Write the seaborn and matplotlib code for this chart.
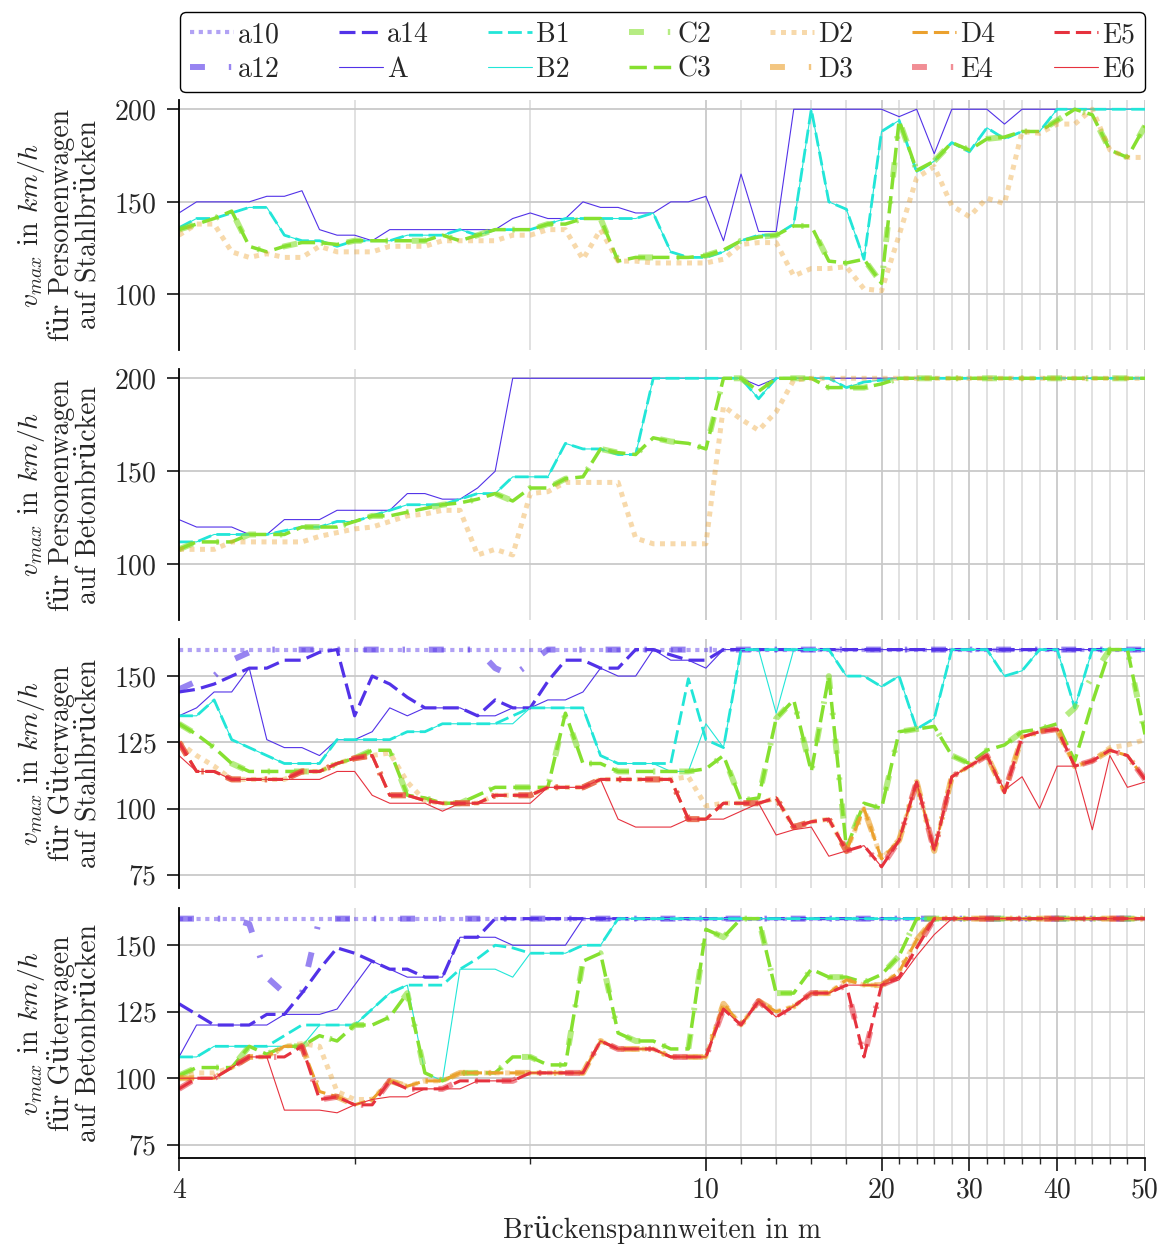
import matplotlib
matplotlib.use("Agg")
import matplotlib.pyplot as plt
from matplotlib.lines import Line2D
import numpy as np
import seaborn as sns

# ---------------------------------------------------------------------------
# Spannweiten (x) – 0.2 m Raster bis 10 m, 1 m bis 20 m, 2 m bis 50 m
# ---------------------------------------------------------------------------
spans = [4.0, 4.2, 4.4, 4.6, 4.8, 5.0, 5.2, 5.4, 5.6, 5.8, 6.0, 6.2, 6.4, 6.6, 6.8,
         7.0, 7.2, 7.4, 7.6, 7.8, 8.0, 8.2, 8.4, 8.6, 8.8, 9.0, 9.2, 9.4, 9.6, 9.8, 10.0,
         11, 12, 13, 14, 15, 16, 17, 18, 19, 20,
         22, 24, 26, 28, 30, 32, 34, 36, 38, 40, 42, 44, 46, 48, 50]

major_ticks = [4, 10, 20, 30, 40, 50]
minor_ticks = [6, 8, 12, 14, 16, 18, 22, 24, 26, 28, 32, 34, 36, 38, 42, 44, 46, 48]

# ---------------------------------------------------------------------------
# Personenwagen auf Stahlbrücken
# ---------------------------------------------------------------------------
pw_st_A = [144, 150, 150, 150, 150, 153, 153, 156, 135, 132, 132, 129, 135, 135, 135,
           135, 135, 135, 135, 141, 144, 141, 141, 150, 147, 147, 144, 144, 150, 150, 153,
           129, 165, 134, 134, 200, 200, 200, 200, 200, 200,
           196, 200, 176, 200, 200, 200, 192, 200, 200, 200, 200, 200, 200, 200, 200]
pw_st_B1 = [136, 141, 141, 144, 147, 147, 132, 129, 129, 126, 129, 129, 129, 132, 132,
            132, 135, 132, 135, 135, 135, 138, 141, 141, 141, 141, 141, 144, 123, 120, 120,
            123, 129, 132, 132, 138, 200, 150, 146, 119, 188,
            194, 166, 172, 182, 177, 190, 184, 188, 188, 200, 200, 200, 200, 200, 200]
pw_st_B2 = pw_st_B1
pw_st_C2 = [135, 138, 141, 145, 126, 123, 126, 128, 128, 127, 129, 129, 129, 129, 129,
            132, 129, 132, 135, 135, 135, 138, 138, 141, 141, 118, 120, 120, 120, 120, 121,
            124, 129, 131, 132, 137, 137, 118, 117, 119, 106,
            194, 167, 172, 182, 178, 184, 185, 188, 188, 194, 200, 197, 178, 174, 191]
pw_st_C3 = pw_st_C2
pw_st_D2 = [132, 138, 138, 123, 120, 122, 120, 120, 126, 123, 123, 123, 126, 126, 126,
            129, 129, 129, 129, 132, 132, 135, 135, 119, 135, 118, 118, 117, 117, 117, 117,
            119, 127, 128, 128, 110, 114, 114, 115, 103, 102,
            132, 163, 169, 148, 142, 152, 149, 188, 187, 192, 192, 200, 178, 174, 174]

# ---------------------------------------------------------------------------
# Personenwagen auf Betonbrücken
# ---------------------------------------------------------------------------
pw_bt_A = [124, 120, 120, 120, 116, 116, 124, 124, 124, 129, 129, 129, 129, 138, 138,
           135, 135, 141, 150, 200, 200, 200, 200, 200, 200, 200, 200, 200, 200, 200, 200,
           200, 200, 196, 200, 200, 200, 200, 200, 200, 200,
           200, 200, 200, 200, 200, 200, 200, 200, 200, 200, 200, 200, 200, 200, 200]
pw_bt_B1 = [112, 112, 116, 116, 116, 116, 118, 120, 120, 123, 123, 126, 129, 132, 132,
            132, 135, 138, 138, 147, 147, 147, 165, 162, 162, 159, 159, 200, 200, 200, 200,
            200, 200, 189, 200, 200, 200, 200, 195, 198, 199,
            200, 200, 200, 200, 200, 200, 200, 200, 200, 200, 200, 200, 200, 200, 200]
pw_bt_B2 = pw_bt_B1
pw_bt_C2 = [108, 112, 112, 112, 116, 116, 116, 120, 120, 120, 123, 126, 126, 128, 130,
            132, 133, 135, 138, 134, 141, 141, 146, 147, 162, 160, 159, 168, 166, 165, 162,
            200, 200, 193, 200, 200, 200, 195, 195, 195, 197,
            200, 200, 200, 200, 200, 200, 200, 200, 200, 200, 200, 200, 200, 200, 200]
pw_bt_C3 = pw_bt_C2
pw_bt_D2 = [108, 108, 108, 112, 112, 112, 112, 112, 115, 117, 119, 120, 123, 126, 127,
            129, 129, 105, 108, 105, 138, 139, 144, 144, 144, 144, 114, 111, 111, 111, 111,
            185, 178, 172, 182, 199, 200, 200, 200, 200, 200,
            200, 200, 200, 200, 200, 200, 200, 200, 200, 200, 200, 200, 200, 200, 200]

# ---------------------------------------------------------------------------
# Güterwagen auf Stahlbrücken
# ---------------------------------------------------------------------------
gw_st_a10 = [160, 160, 160, 160, 160, 160, 160, 160, 160, 160, 160, 160, 160, 160, 160,
             160, 160, 160, 160, 160, 160, 160, 160, 160, 160, 160, 160, 160, 160, 160, 160,
             160, 160, 160, 160, 160, 160, 160, 160, 160, 160,
             160, 160, 160, 160, 160, 160, 160, 160, 160, 160, 160, 160, 160, 160, 160]
gw_st_a12 = [145, 148, 150, 156, 159, 160, 160, 160, 160, 160, 160, 160, 160, 160, 160,
             160, 160, 160, 153, 150, 155, 160, 160, 160, 160, 160, 160, 160, 160, 160, 160,
             160, 160, 160, 160, 160, 160, 160, 160, 160, 160,
             160, 160, 160, 160, 160, 160, 160, 160, 160, 160, 160, 160, 160, 160, 160]
gw_st_a14 = [144, 145, 147, 150, 153, 153, 156, 156, 159, 160, 135, 150, 147, 142, 138,
             138, 138, 135, 141, 138, 138, 148, 156, 156, 153, 153, 160, 160, 158, 156, 156,
             160, 160, 160, 160, 160, 160, 160, 160, 160, 160,
             160, 160, 160, 160, 160, 160, 160, 160, 160, 160, 160, 160, 160, 160, 160]
gw_st_A = [135, 138, 144, 144, 153, 126, 123, 123, 120, 126, 126, 129, 138, 135, 138,
           138, 138, 135, 135, 138, 138, 141, 141, 144, 153, 150, 150, 160, 156, 156, 153,
           160, 160, 160, 160, 160, 160, 160, 160, 160, 160,
           160, 160, 160, 160, 160, 160, 160, 160, 160, 160, 160, 160, 160, 160, 160]
gw_st_B1 = [135, 135, 141, 126, 123, 120, 117, 117, 117, 126, 126, 126, 126, 129, 129,
            132, 132, 132, 132, 135, 138, 138, 138, 138, 120, 117, 117, 117, 117, 149, 126,
            123, 160, 160, 160, 160, 160, 160, 150, 150, 146,
            150, 130, 134, 160, 160, 160, 150, 152, 160, 160, 138, 160, 160, 160, 160]
gw_st_B2 = [135, 135, 141, 126, 123, 120, 117, 117, 117, 126, 126, 126, 126, 129, 129,
            132, 132, 132, 132, 132, 138, 138, 138, 138, 120, 117, 117, 117, 114, 114, 132,
            123, 160, 160, 136, 160, 160, 160, 150, 150, 146,
            150, 130, 134, 160, 160, 160, 150, 152, 160, 160, 138, 160, 160, 160, 160]
gw_st_C2 = [132, 128, 123, 117, 114, 114, 114, 114, 114, 117, 119, 122, 122, 105, 104,
            102, 102, 105, 108, 108, 108, 108, 136, 117, 117, 114, 114, 114, 114, 114, 115,
            120, 103, 104, 134, 141, 114, 150, 85, 102, 100,
            129, 130, 131, 120, 117, 122, 124, 129, 130, 132, 138, 150, 160, 160, 128]
gw_st_C3 = [132, 128, 123, 117, 114, 114, 114, 114, 114, 117, 119, 122, 122, 105, 104,
            102, 102, 105, 108, 108, 108, 108, 136, 117, 117, 114, 114, 114, 114, 114, 115,
            120, 103, 104, 134, 141, 114, 150, 85, 102, 100,
            129, 130, 131, 120, 117, 122, 124, 129, 130, 132, 118, 140, 160, 160, 128]
gw_st_D2 = [125, 120, 116, 111, 111, 111, 111, 114, 114, 117, 119, 120, 121, 110, 103,
            102, 102, 102, 105, 105, 105, 108, 108, 108, 111, 111, 111, 111, 111, 112, 101,
            102, 102, 102, 104, 93, 95, 96, 84, 100, 81,
            88, 110, 84, 112, 116, 120, 106, 127, 129, 130, 116, 118, 123, 124, 126]
gw_st_D3 = [125, 114, 114, 111, 111, 111, 111, 114, 114, 117, 119, 120, 105, 105, 103,
            102, 102, 102, 105, 105, 105, 108, 108, 108, 111, 111, 111, 111, 111, 96, 96,
            102, 102, 102, 104, 93, 95, 96, 84, 100, 81,
            88, 110, 84, 112, 116, 120, 106, 127, 129, 130, 116, 118, 122, 120, 111]
gw_st_D4 = gw_st_D3
gw_st_E4 = [125, 114, 114, 111, 111, 111, 111, 114, 114, 117, 119, 120, 105, 105, 103,
            102, 102, 102, 105, 105, 105, 108, 108, 108, 111, 111, 111, 111, 111, 96, 96,
            102, 102, 102, 104, 93, 95, 96, 84, 86, 78,
            88, 110, 84, 112, 116, 120, 106, 127, 129, 130, 116, 118, 122, 120, 111]
gw_st_E5 = gw_st_E4
gw_st_E6 = [120, 114, 114, 111, 111, 111, 111, 111, 111, 114, 114, 105, 102, 102, 102,
            99, 102, 102, 102, 102, 102, 108, 108, 108, 111, 96, 93, 93, 93, 96, 96,
            96, 99, 102, 90, 92, 93, 82, 84, 86, 78,
            88, 110, 84, 112, 116, 120, 107, 112, 100, 116, 116, 92, 120, 108, 110]

# ---------------------------------------------------------------------------
# Güterwagen auf Betonbrücken
# ---------------------------------------------------------------------------
gw_bt_a10 = gw_st_a10
gw_bt_a12 = [160, 160, 160, 160, 158, 138, 132, 132, 160, 160, 160, 160, 160, 160, 160,
             160, 160, 160, 160, 160, 160, 160, 160, 160, 160, 160, 160, 160, 160, 160, 160,
             160, 160, 160, 160, 160, 160, 160, 160, 160, 160,
             160, 160, 160, 160, 160, 160, 160, 160, 160, 160, 160, 160, 160, 160, 160]
gw_bt_a14 = [128, 124, 120, 120, 120, 124, 124, 132, 141, 149, 147, 144, 141, 141, 138,
             138, 153, 153, 160, 160, 160, 160, 160, 160, 160, 160, 160, 160, 160, 160, 160,
             160, 160, 160, 160, 160, 160, 160, 160, 160, 160,
             160, 160, 160, 160, 160, 160, 160, 160, 160, 160, 160, 160, 160, 160, 160]
gw_bt_A = [108, 120, 120, 120, 120, 120, 124, 124, 124, 126, 135, 144, 141, 138, 138,
           138, 153, 153, 153, 150, 150, 150, 150, 160, 160, 160, 160, 160, 160, 160, 160,
           160, 160, 160, 160, 160, 160, 160, 160, 160, 160,
           160, 160, 160, 160, 160, 160, 160, 160, 160, 160, 160, 160, 160, 160, 160]
gw_bt_B1 = [108, 108, 112, 112, 112, 112, 116, 120, 120, 120, 120, 126, 132, 135, 135,
            135, 141, 145, 150, 149, 147, 147, 147, 150, 150, 160, 160, 160, 160, 160, 160,
            160, 160, 160, 160, 160, 160, 160, 160, 160, 160,
            160, 160, 160, 160, 160, 160, 160, 160, 160, 160, 160, 160, 160, 160, 160]
gw_bt_B2 = [108, 108, 112, 112, 112, 112, 112, 112, 120, 120, 120, 126, 132, 135, 102,
            99, 141, 141, 141, 138, 147, 147, 147, 150, 150, 160, 160, 160, 160, 160, 160,
            160, 160, 160, 160, 160, 160, 160, 160, 160, 160,
            160, 160, 160, 160, 160, 160, 160, 160, 160, 160, 160, 160, 160, 160, 160]
gw_bt_C2 = [101, 104, 104, 104, 112, 109, 112, 112, 116, 114, 120, 120, 123, 132, 102,
            99, 102, 102, 102, 108, 108, 105, 105, 144, 147, 117, 114, 114, 111, 111, 156,
            153, 160, 160, 132, 132, 141, 138, 138, 136, 139,
            146, 160, 160, 160, 160, 160, 160, 160, 160, 160, 160, 160, 160, 160, 160]
gw_bt_C3 = gw_bt_C2
gw_bt_D2 = [100, 102, 102, 104, 108, 108, 112, 113, 112, 95, 92, 92, 99, 97, 99,
            99, 102, 102, 102, 102, 102, 102, 102, 102, 114, 111, 111, 111, 108, 108, 108,
            128, 120, 129, 125, 127, 132, 132, 137, 135, 135,
            140, 152, 160, 160, 160, 160, 160, 160, 160, 160, 160, 160, 160, 160, 160]
gw_bt_D3 = [100, 100, 100, 104, 108, 108, 112, 112, 95, 93, 90, 92, 99, 97, 99,
            99, 102, 102, 102, 102, 102, 102, 102, 102, 114, 111, 111, 111, 108, 108, 108,
            128, 120, 129, 125, 127, 132, 132, 137, 135, 135,
            140, 152, 160, 160, 160, 160, 160, 160, 160, 160, 160, 160, 160, 160, 160]
gw_bt_D4 = gw_bt_D3
gw_bt_E4 = [96, 100, 100, 104, 108, 108, 108, 112, 92, 93, 90, 90, 99, 96, 96,
            96, 99, 99, 99, 99, 102, 102, 102, 102, 114, 111, 111, 111, 108, 108, 108,
            126, 120, 129, 123, 127, 132, 132, 135, 108, 135,
            138, 149, 160, 160, 160, 160, 160, 160, 160, 160, 160, 160, 160, 160, 160]
gw_bt_E5 = gw_bt_E4
gw_bt_E6 = [100, 100, 100, 104, 108, 108, 88, 88, 88, 87, 90, 92, 93, 93, 96,
            96, 96, 99, 99, 99, 102, 102, 102, 102, 114, 111, 111, 111, 108, 108, 108,
            126, 120, 129, 123, 127, 132, 132, 135, 135, 135,
            137, 146, 154, 160, 160, 160, 160, 160, 160, 160, 160, 160, 160, 160, 160]

panels = [
    {"ylabel": "$v_{max}$ in $km/h$\nfür Personenwagen\nauf Stahlbrücken",
     "ylim": (70, 205), "yticks": [100, 150, 200],
     "series": {"A": pw_st_A, "B1": pw_st_B1, "B2": pw_st_B2,
                "C2": pw_st_C2, "C3": pw_st_C3, "D2": pw_st_D2}},
    {"ylabel": "$v_{max}$ in $km/h$\nfür Personenwagen\nauf Betonbrücken",
     "ylim": (70, 205), "yticks": [100, 150, 200],
     "series": {"A": pw_bt_A, "B1": pw_bt_B1, "B2": pw_bt_B2,
                "C2": pw_bt_C2, "C3": pw_bt_C3, "D2": pw_bt_D2}},
    {"ylabel": "$v_{max}$ in $km/h$\nfür Güterwagen\nauf Stahlbrücken",
     "ylim": (70, 164), "yticks": [75, 100, 125, 150],
     "series": {"a10": gw_st_a10, "a12": gw_st_a12, "a14": gw_st_a14, "A": gw_st_A,
                "B1": gw_st_B1, "B2": gw_st_B2, "C2": gw_st_C2, "C3": gw_st_C3,
                "D2": gw_st_D2, "D3": gw_st_D3, "D4": gw_st_D4,
                "E4": gw_st_E4, "E5": gw_st_E5, "E6": gw_st_E6}},
    {"ylabel": "$v_{max}$ in $km/h$\nfür Güterwagen\nauf Betonbrücken",
     "ylim": (70, 164), "yticks": [75, 100, 125, 150],
     "series": {"a10": gw_bt_a10, "a12": gw_bt_a12, "a14": gw_bt_a14, "A": gw_bt_A,
                "B1": gw_bt_B1, "B2": gw_bt_B2, "C2": gw_bt_C2, "C3": gw_bt_C3,
                "D2": gw_bt_D2, "D3": gw_bt_D3, "D4": gw_bt_D4,
                "E4": gw_bt_E4, "E5": gw_bt_E5, "E6": gw_bt_E6}},
]

# ---------------------------------------------------------------------------
# Linienstile je Streckenklasse
# ---------------------------------------------------------------------------
col_a, col_B, col_C, col_D, col_E = "#5232e8", "#22e6d8", "#86e030", "#eba12e", "#e6323e"
dotted = (0, (1.0, 1.1))
dashed = (0, (5.0, 2.0))
dashdot = (0, (2.5, 4.0, 0.4, 4.0))
styles = {
    "a10": dict(color=col_a, lw=3.0, ls=dotted, alpha=0.45),
    "a12": dict(color=col_a, lw=4.3, ls=dashdot, alpha=0.6),
    "a14": dict(color=col_a, lw=2.3, ls=dashed, alpha=1.0),
    "A":   dict(color=col_a, lw=0.8, ls="-", alpha=1.0),
    "B1":  dict(color=col_B, lw=2.0, ls=dashed, alpha=1.0),
    "B2":  dict(color=col_B, lw=0.8, ls="-", alpha=1.0),
    "C2":  dict(color=col_C, lw=4.3, ls=dashdot, alpha=0.6),
    "C3":  dict(color=col_C, lw=2.5, ls=dashed, alpha=1.0),
    "D2":  dict(color=col_D, lw=3.6, ls=dotted, alpha=0.4),
    "D3":  dict(color=col_D, lw=4.3, ls=dashdot, alpha=0.6),
    "D4":  dict(color=col_D, lw=2.2, ls=dashed, alpha=1.0),
    "E4":  dict(color=col_E, lw=4.3, ls=dashdot, alpha=0.55),
    "E5":  dict(color=col_E, lw=2.2, ls=dashed, alpha=1.0),
    "E6":  dict(color=col_E, lw=0.8, ls="-", alpha=1.0),
}
legend_order = ["a10", "a12", "a14", "A", "B1", "B2", "C2", "C3",
                "D2", "D3", "D4", "E4", "E5", "E6"]


# piecewise-linear span axis: 4-10 m, 10-20 m and 20-50 m sections
def span_fwd(x):
    x = np.asarray(x, dtype=float)
    return np.where(x <= 10, (x - 4) * 5.0,
                    np.where(x <= 20, 30 + (x - 10), 40 + (x - 20) / 2.0))


def span_inv(p):
    p = np.asarray(p, dtype=float)
    return np.where(p <= 30, 4 + p / 5.0,
                    np.where(p <= 40, 10 + (p - 30), 20 + (p - 40) * 2.0))


sns.set_style("white")
plt.rcParams.update({
    "font.family": ["cmr10", "DejaVu Serif"],
    "mathtext.fontset": "cm",
    "axes.formatter.use_mathtext": True,
    "axes.unicode_minus": False,
    "font.size": 20,
})

W, H = 1160, 1245
fig = plt.figure(figsize=(W / 100, H / 100), dpi=100)
left_px, right_px = 179, 1145
rows_px = [(100, 350), (369, 620), (639, 888), (908, 1158)]

axes = []
for k, (panel, (top, bot)) in enumerate(zip(panels, rows_px)):
    ax = fig.add_axes([left_px / W, 1 - bot / H, (right_px - left_px) / W, (bot - top) / H])
    ax.set_xscale("function", functions=(span_fwd, span_inv))
    for name in legend_order:
        if name not in panel["series"]:
            continue
        st = styles[name]
        sns.lineplot(x=spans, y=panel["series"][name], ax=ax, color=st["color"],
                     linewidth=st["lw"], linestyle=st["ls"], alpha=st["alpha"],
                     legend=False, errorbar=None, sort=False)
    ax.set_xlim(4, 50)
    ax.set_ylim(*panel["ylim"])
    ax.set_yticks(panel["yticks"])
    ax.set_xticks(major_ticks)
    ax.set_xticks(minor_ticks, minor=True)
    ax.set_xticklabels([str(t) for t in major_ticks])
    ax.set_axisbelow(True)
    ax.grid(True, which="major", axis="both", color="#c9c9c9", lw=1.3)
    ax.grid(True, which="minor", axis="x", color="#dedede", lw=1.3)
    for s in ["top", "right"]:
        ax.spines[s].set_visible(False)
    ax.spines["left"].set_color("black")
    ax.spines["left"].set_linewidth(1.3)
    ax.tick_params(axis="y", which="major", direction="out", length=9, width=1.3,
                   labelsize=20, pad=7, left=True)
    if k < 3:
        ax.spines["bottom"].set_visible(False)
        ax.tick_params(axis="x", which="both", length=0, labelbottom=False)
        ax.set_xlabel("")
    else:
        ax.spines["bottom"].set_color("black")
        ax.spines["bottom"].set_linewidth(1.3)
        ax.tick_params(axis="x", which="major", direction="out", length=9, width=1.3,
                       labelsize=20, pad=5, bottom=True)
        ax.tick_params(axis="x", which="minor", direction="out", length=4.5, width=1.0,
                       bottom=True)
        ax.set_xlabel("Brückenspannweiten in m", fontsize=20, labelpad=9)
    ax.set_ylabel(panel["ylabel"], fontsize=20, linespacing=1.0)
    ax.yaxis.set_label_coords(-0.080, 0.5)
    axes.append(ax)

handles = [Line2D([], [], color=styles[n]["color"], lw=styles[n]["lw"],
                  ls=styles[n]["ls"], alpha=styles[n]["alpha"]) for n in legend_order]
leg = fig.legend(handles, legend_order, loc="upper left", ncol=7, mode="expand",
                 bbox_to_anchor=(180 / W, 0, 965 / W, 1 - 12 / H),
                 borderaxespad=0, fontsize=20, handlelength=1.6, handletextpad=0.15,
                 labelspacing=0.3, borderpad=0.35, columnspacing=1.0,
                 frameon=True, fancybox=True, framealpha=1)
leg.get_frame().set_edgecolor("black")
leg.get_frame().set_linewidth(1.0)

fig.savefig("out.png", dpi=100)
